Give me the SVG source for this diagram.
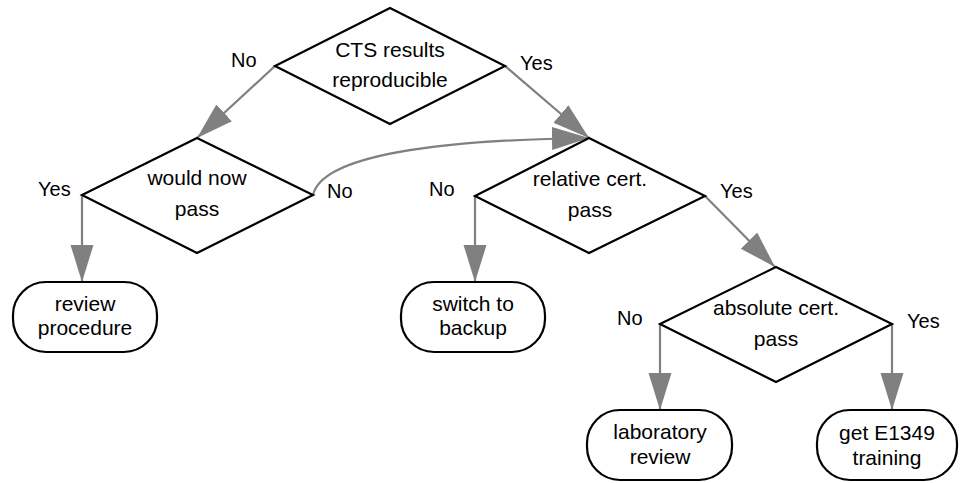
<svg xmlns="http://www.w3.org/2000/svg" width="961" height="483" viewBox="0 0 961 483">
<style>
.d{fill:#fff;stroke:#000;stroke-width:2.2;stroke-linejoin:miter}
.t{fill:#fff;stroke:#000;stroke-width:2.2}
text{font-family:"Liberation Sans",Arial,sans-serif;font-size:21px;fill:#000;text-anchor:middle}
.lbl{text-anchor:start;font-size:20px}
.c{fill:none;stroke:#808080;stroke-width:2.2}
</style>
<defs>
<marker id="ah" markerUnits="userSpaceOnUse" markerWidth="40" markerHeight="26" refX="37" refY="11.5" orient="auto">
<path d="M0,0 L37,11.5 L0,23 Z" fill="#808080"/>
</marker>
</defs>
<g id="connectors">
<path class="c" d="M275,66 L197,138" marker-end="url(#ah)"/>
<path class="c" d="M505,66 L589,138" marker-end="url(#ah)"/>
<path class="c" d="M313,195 C322,155 440,140 589,138" marker-end="url(#ah)"/>
<path class="c" d="M82,195 L82,282" marker-end="url(#ah)"/>
<path class="c" d="M475,196 L475,282" marker-end="url(#ah)"/>
<path class="c" d="M705,196 L775,267" marker-end="url(#ah)"/>
<path class="c" d="M660,324 L660,410" marker-end="url(#ah)"/>
<path class="c" d="M892,324 L892,410" marker-end="url(#ah)"/>
<text class="lbl" x="231" y="67">No</text>
<text class="lbl" x="520" y="70">Yes</text>
<text class="lbl" x="38" y="196">Yes</text>
<text class="lbl" x="327" y="198">No</text>
<text class="lbl" x="429" y="196">No</text>
<text class="lbl" x="720" y="198">Yes</text>
<text class="lbl" x="617" y="325">No</text>
<text class="lbl" x="907" y="328">Yes</text>
</g>
<g id="cts">
<polygon class="d" points="390,8 505,66 390,124 275,66"/>
<text x="390" y="57">CTS results</text>
<text x="390" y="87">reproducible</text>
</g>
<g id="wouldpass">
<polygon class="d" points="197,138 313,195 197,253 82,195"/>
<text x="197" y="185">would now</text>
<text x="197" y="216">pass</text>
</g>
<g id="relative">
<polygon class="d" points="589,138 705,196 589,253 475,196"/>
<text x="590" y="186">relative cert.</text>
<text x="590" y="217">pass</text>
</g>
<g id="absolute">
<polygon class="d" points="776,267 892,324 776,382 660,324"/>
<text x="776" y="315">absolute cert.</text>
<text x="776" y="346">pass</text>
</g>
<g id="review">
<rect class="t" x="13" y="282" width="144" height="70" rx="33"/>
<text x="85" y="311">review</text>
<text x="85" y="335">procedure</text>
</g>
<g id="backup">
<rect class="t" x="401" y="282" width="144" height="70" rx="33"/>
<text x="473" y="311">switch to</text>
<text x="473" y="335">backup</text>
</g>
<g id="lab">
<rect class="t" x="587" y="410" width="145" height="70" rx="33"/>
<text x="660" y="439">laboratory</text>
<text x="660" y="464">review</text>
</g>
<g id="training">
<rect class="t" x="817" y="410" width="140" height="70" rx="33"/>
<text x="887" y="440">get E1349</text>
<text x="887" y="465">training</text>
</g>
</svg>
